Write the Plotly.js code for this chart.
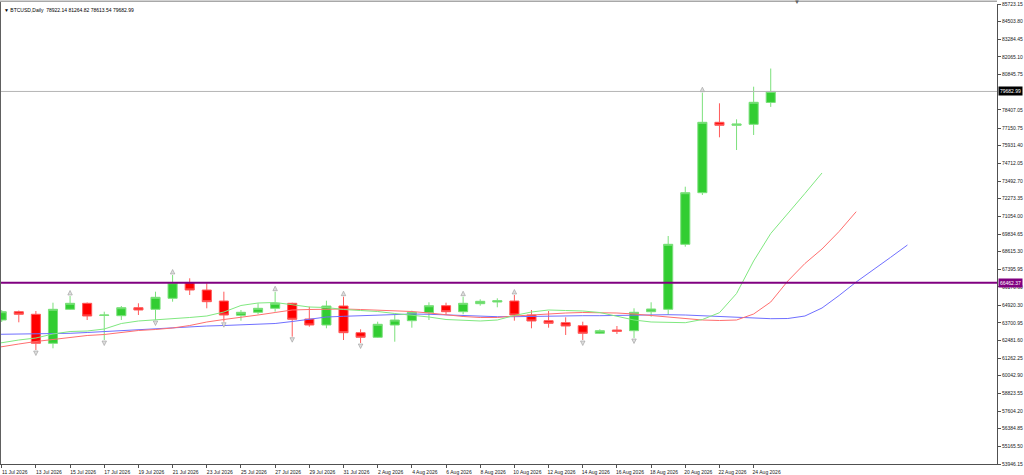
<!DOCTYPE html>
<html>
<head>
<meta charset="utf-8">
<script src="https://cdn.plot.ly/plotly-3.0.1.min.js"></script>
<style>html,body{margin:0;padding:0;background:#fff;}#chart{width:1024px;height:475px;}</style>
</head>
<body>
<div id="chart"></div>
<script>
// consecutive calendar days (crypto trades every day), 10 Jul 2026 .. 2 Sep 2026
const days = [
 '2026-07-10','2026-07-11','2026-07-12','2026-07-13','2026-07-14','2026-07-15','2026-07-16','2026-07-17','2026-07-18','2026-07-19',
 '2026-07-20','2026-07-21','2026-07-22','2026-07-23','2026-07-24','2026-07-25','2026-07-26','2026-07-27','2026-07-28','2026-07-29',
 '2026-07-30','2026-07-31','2026-08-01','2026-08-02','2026-08-03','2026-08-04','2026-08-05','2026-08-06','2026-08-07','2026-08-08',
 '2026-08-09','2026-08-10','2026-08-11','2026-08-12','2026-08-13','2026-08-14','2026-08-15','2026-08-16','2026-08-17','2026-08-18',
 '2026-08-19','2026-08-20','2026-08-21','2026-08-22','2026-08-23','2026-08-24','2026-08-25','2026-08-26','2026-08-27','2026-08-28',
 '2026-08-29','2026-08-30','2026-08-31','2026-09-01','2026-09-02'
];
const candleDates = days.slice(1, 47); // 11 Jul .. 25 Aug

const openP  = [63894,64467,64288,62284,64633,65047,64205,64191,64744,64633,65393,66471,65966,65206,64219,64426,64702,65047,63963,63548,64861,63017,62699,63548,63846,64398,64882,64467,65020,65137,65206,64239,63846,63707,63500,62975,63203,63155,64467,64633,69123,72688,77551,77344,77413,78922.14];
const highP  = [64585,64550,64516,65089,65552,65103,64467,64861,65047,65849,67002,66774,66429,65849,64585,65047,65849,65089,64813,65227,65503,63251,63776,64239,64536,65117,65089,65503,65324,65393,65621,64585,64516,64080,63776,63251,63479,64702,65117,69697,73102,79596,78863,77758,80010,81264.82];
const lowP   = [63756,63735,61821,61939,64585,63894,62512,63894,64239,63894,65158,65621,64702,63776,63846,64288,64467,62740,63431,63320,62512,62305,62651,62395,63362,63894,64239,64288,64882,64771,63846,63320,63362,62858,62512,62927,62927,62651,64122,64239,68957,72529,76515,75637,76674,78613.54];
const closeP = [64467,64288,62284,64633,65047,64170,64239,64744,64585,65462,66471,65966,65158,64239,64426,64702,65047,63942,63548,64861,63017,62699,63597,63894,64426,64882,64467,65047,65185,65227,64239,63825,63666,63479,62975,63155,63113,64426,64654,69123,72688,77551,77344,77434,78933,79682.99];

// moving averages (drawn shifted forward, as on the chart)
const maGreen = [62132,62340,62512,62650,62927,63099,63134,63272,63652,63825,63894,63963,64067,64170,64446,64896,65068,65103,64930,64792,64757,64619,64550,64481,64343,64239,64101,63928,63859,63825,63894,64205,64446,64585,64550,64516,64412,64170,63894,63756,63721,63707,63928,64398,65724,67970,69869,71216,72633,74049];
const maRed   = [61856,62063,62236,62409,62547,62685,62823,62892,63030,63169,63238,63341,63514,63756,63928,64067,64239,64412,64585,64619,64654,64654,64619,64585,64550,64481,64377,64239,64136,64067,64067,64170,64239,64343,64377,64412,64412,64377,64308,64205,64136,63997,63894,63859,63894,64308,65137,66588,67797,68799,70007,71375];
const maBlue  = [62892,62906,62927,62941,62961,62975,63030,63099,63169,63238,63307,63376,63424,63479,63514,63548,63583,63652,63790,63963,64101,64149,64184,64239,64288,64308,64288,64239,64170,64122,64122,64122,64149,64170,64184,64191,64191,64205,64239,64274,64260,64239,64184,64136,64067,64018,63984,63997,64170,64723,65586,66519,67348,68211,69075];

// fractal bars (indices into candle arrays)
const fractalUp   = [4,10,16,20,27,30,41];
const fractalDown = [2,6,9,13,17,21,34,37];

const levelLine = 66462.37;
const symbolName = 'BTCUSD';
const timeframe = 'Daily';

const yTicks = [85723.15,84503.80,83284.45,82065.10,80845.75,78407.05,77150.75,75931.40,74712.05,73492.70,72273.35,71054.00,69834.65,68615.30,67395.95,66176.60,64920.30,63700.95,62481.60,61262.25,60042.90,58823.55,57604.20,56384.85,55165.50,53946.15];
// x labels only on bars that exist: every second day from 11 Jul to 24 Aug
const xTicks = candleDates.filter((d, i) => i % 2 === 0);
const monthNames = ['Jan','Feb','Mar','Apr','May','Jun','Jul','Aug','Sep','Oct','Nov','Dec'];
const xTickText = xTicks.map(d => { const p = d.split('-'); return (+p[2]) + ' ' + monthNames[+p[1]-1] + ' ' + p[0]; });

const n = closeP.length;
const lastClose = closeP[n-1];
const fractalPad = 380;

const font = 'Liberation Sans, Arial, sans-serif';
const axisCol = '#505050';

const traces = [
  {
    type: 'candlestick', x: candleDates, open: openP, high: highP, low: lowP, close: closeP,
    increasing: {line: {color: '#7be07b', width: 1}, fillcolor: '#32cd32'},
    decreasing: {line: {color: '#ff5a5a', width: 1}, fillcolor: '#ff0000'},
    whiskerwidth: 0, hoverinfo: 'skip', showlegend: false
  },
  {type: 'scatter', mode: 'lines', x: days.slice(0, maBlue.length), y: maBlue, line: {color: '#6f6fff', width: 1}, showlegend: false, hoverinfo: 'skip'},
  {type: 'scatter', mode: 'lines', x: days.slice(0, maRed.length), y: maRed, line: {color: '#ff6f6f', width: 1}, showlegend: false, hoverinfo: 'skip'},
  {type: 'scatter', mode: 'lines', x: days.slice(0, maGreen.length), y: maGreen, line: {color: '#80e880', width: 1}, showlegend: false, hoverinfo: 'skip'},
  {type: 'scatter', mode: 'markers', x: fractalUp.map(i => candleDates[i]), y: fractalUp.map(i => highP[i] + fractalPad),
   marker: {symbol: 'arrow-up', size: 4.5, color: '#dedede', line: {color: '#9a9a9a', width: 0.6}}, showlegend: false, hoverinfo: 'skip'},
  {type: 'scatter', mode: 'markers', x: fractalDown.map(i => candleDates[i]), y: fractalDown.map(i => lowP[i] - fractalPad),
   marker: {symbol: 'arrow-down', size: 4.5, color: '#dedede', line: {color: '#9a9a9a', width: 0.6}}, showlegend: false, hoverinfo: 'skip'}
];

const layout = {
  width: 1024, height: 475,
  margin: {l: 0, r: 27, t: 4, b: 11, pad: 0},
  paper_bgcolor: '#ffffff', plot_bgcolor: '#ffffff',
  font: {family: font, size: 5, color: '#000'},
  showlegend: false,
  boxgap: 0.24,
  xaxis: {
    type: 'date', range: ['2026-07-10 21:36', '2026-09-07 05:46'],
    rangeslider: {visible: false},
    showgrid: false, zeroline: false,
    showline: true, linecolor: axisCol, linewidth: 1,
    ticks: 'outside', ticklen: 3, tickcolor: axisCol, tickwidth: 1,
    tickmode: 'array', tickvals: xTicks, ticktext: xTickText,
    ticklabelshift: 13, ticklabelstandoff: 0,
    tickfont: {family: font, size: 5, color: '#202020'}
  },
  yaxis: {
    side: 'right', range: [53946.15, 85723.15],
    showgrid: false, zeroline: false,
    showline: true, linecolor: axisCol, linewidth: 1,
    ticks: 'outside', ticklen: 3, tickcolor: axisCol,
    tickmode: 'array', tickvals: yTicks, ticktext: yTicks.map(v => v.toFixed(2)),
    tickfont: {family: font, size: 5, color: '#202020'}
  },
  shapes: [
    {type: 'line', xref: 'paper', yref: 'y', x0: 0, x1: 1, y0: lastClose, y1: lastClose, line: {color: '#b4b4b4', width: 1}, layer: 'above'},
    {type: 'line', xref: 'paper', yref: 'y', x0: 0, x1: 1, y0: levelLine, y1: levelLine, line: {color: '#800080', width: 2}, layer: 'above'},
    {type: 'line', xref: 'paper', yref: 'paper', x0: 0, x1: 0, y0: 0, y1: 1.006, line: {color: '#606060', width: 2}},
    {type: 'line', xref: 'paper', yref: 'paper', x0: 0, x1: 1, y0: 1.006, y1: 1.006, line: {color: '#a8a8a8', width: 1.5}}
  ],
  annotations: [
    {xref: 'paper', yref: 'paper', x: 0, y: 1, xanchor: 'left', yanchor: 'top', xshift: 2, yshift: -1, showarrow: false,
     text: '▼ ' + symbolName + ',' + timeframe + '  ' + openP[n-1].toFixed(2) + ' ' + highP[n-1].toFixed(2) + ' ' + lowP[n-1].toFixed(2) + ' ' + lastClose.toFixed(2),
     font: {family: font, size: 5, color: '#000'}},
    {xref: 'paper', yref: 'y', x: 1, y: lastClose, xanchor: 'left', yanchor: 'middle', xshift: 1, showarrow: false,
     text: lastClose.toFixed(2), bgcolor: '#000000', borderpad: 1, font: {family: font, size: 5, color: '#ffffff'}},
    {xref: 'paper', yref: 'y', x: 1, y: levelLine, xanchor: 'left', yanchor: 'middle', xshift: 1, showarrow: false,
     text: levelLine.toFixed(2), bgcolor: '#800080', borderpad: 1, font: {family: font, size: 5, color: '#ffffff'}},
    {xref: 'paper', yref: 'paper', x: 0.7994, y: 1, xanchor: 'center', yanchor: 'middle', yshift: 2, showarrow: false,
     text: '▼', font: {family: font, size: 6, color: '#606060'}}
  ]
};

Plotly.newPlot('chart', traces, layout, {staticPlot: true, displayModeBar: false});
</script>
</body>
</html>
